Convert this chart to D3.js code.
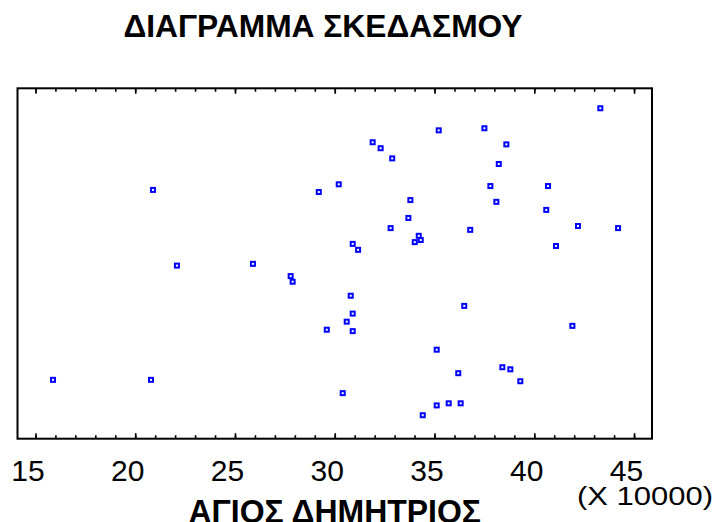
<!DOCTYPE html>
<html>
<head>
<meta charset="utf-8">
<script src="https://cdn.jsdelivr.net/npm/d3@7"></script>
<style>
  html, body { margin: 0; padding: 0; background: #fff; }
  svg { display: block; }
  text { font-family: "Liberation Sans", Arial, sans-serif; fill: #000; }
</style>
</head>
<body>
<svg id="chart" width="717" height="522"></svg>
<script>
// Scatter data: x in units of 10000, y on an unlabelled 0–100 scale
const xValues = [
  20.89, 15.88, 20.79, 22.09, 25.90, 27.79, 27.89, 29.20, 30.20, 30.90,
  31.17, 30.80, 30.90, 30.60, 29.60, 30.90, 30.40, 43.31, 35.21, 37.50,
  31.90, 32.30, 32.88, 38.60, 38.22, 37.80, 40.69, 33.79, 38.10, 40.60,
  33.69, 32.80, 36.79, 42.19, 44.20, 34.21, 34.01, 34.31, 41.09, 36.49,
  41.91, 35.11, 38.40, 38.80, 36.19, 39.30, 35.11, 35.71, 36.31, 34.41
];
const yValues = [
  71.0, 16.8, 16.8, 49.4, 49.9, 46.4, 44.8, 70.4, 72.6, 55.6,
  53.9, 40.8, 35.7, 33.4, 31.1, 30.7, 13.0, 94.3, 88.0, 88.6,
  84.6, 82.9, 80.0, 84.0, 78.4, 72.1, 72.1, 68.1, 67.6, 65.3,
  63.0, 60.1, 59.6, 60.7, 60.1, 57.9, 56.1, 56.7, 55.0, 37.9,
  32.2, 25.4, 20.4, 19.8, 18.7, 16.4, 9.5, 10.1, 10.1, 6.7
];
const xTicks = [15, 20, 25, 30, 35, 40, 45];
const xMinorTicks = d3.range(15, 46, 1);
const titleText = "ΔΙΑΓΡΑΜΜΑ ΣΚΕΔΑΣΜΟΥ";
const xLabelText = "ΑΓΙΟΣ ΔΗΜΗΤΡΙΟΣ";
const xUnitText = "(X 10000)";

const svg = d3.select("#chart");

const frame = { left: 17.5, right: 652, top: 88.3, bottom: 438.7 };
const x = d3.scaleLinear().domain([14.1, 45.9]).range([frame.left, frame.right]);
const y = d3.scaleLinear().domain([0, 100]).range([frame.bottom, frame.top]);

// Title
svg.append("text")
  .attr("x", 123.5).attr("y", 37.3)
  .attr("font-size", 31).attr("font-weight", "bold")
  .attr("textLength", 399).attr("lengthAdjust", "spacingAndGlyphs")
  .text(titleText);

// Plot frame
svg.append("rect")
  .attr("x", frame.left).attr("y", frame.top)
  .attr("width", frame.right - frame.left)
  .attr("height", frame.bottom - frame.top)
  .attr("fill", "none").attr("stroke", "#000").attr("stroke-width", 2);

// Inward ticks on the bottom and top edges
const minorAxisB = d3.axisBottom(x).tickValues(xMinorTicks).tickSize(-3.5).tickFormat("");
const majorAxisB = d3.axisBottom(x).tickValues(xTicks).tickSize(-5.5).tickFormat("");
const minorAxisT = d3.axisTop(x).tickValues(xMinorTicks).tickSize(-3.5).tickFormat("");
const majorAxisT = d3.axisTop(x).tickValues(xTicks).tickSize(-5.5).tickFormat("");

[[minorAxisB, frame.bottom], [majorAxisB, frame.bottom],
 [minorAxisT, frame.top], [majorAxisT, frame.top]].forEach(([ax, yy]) => {
  const g = svg.append("g").attr("transform", `translate(0,${yy})`).call(ax);
  g.select(".domain").remove();
  g.selectAll(".tick line").attr("stroke", "#000").attr("stroke-width", 1.6);
});

// Tick labels
svg.append("g").selectAll("text")
  .data(xTicks)
  .join("text")
  .attr("x", d => x(d) - 7.5)
  .attr("y", 480.5)
  .attr("text-anchor", "middle")
  .attr("font-size", 30)
  .text(d => d);

// Axis title and unit
svg.append("text")
  .attr("x", 188.5).attr("y", 523)
  .attr("font-size", 32.5).attr("font-weight", "bold")
  .attr("textLength", 292.5).attr("lengthAdjust", "spacingAndGlyphs")
  .text(xLabelText);

svg.append("text")
  .attr("x", 577).attr("y", 505)
  .attr("font-size", 25.5)
  .attr("textLength", 136).attr("lengthAdjust", "spacingAndGlyphs")
  .text(xUnitText);

// Points: small hollow blue squares
const pts = xValues.map((v, i) => ({ x: v, y: yValues[i] }));
svg.append("g").selectAll("rect")
  .data(pts)
  .join("rect")
  .attr("x", d => x(d.x) - 2)
  .attr("y", d => y(d.y) - 2)
  .attr("width", 4).attr("height", 4)
  .attr("fill", "#fff")
  .attr("stroke", "#0000ff")
  .attr("stroke-width", 2);
</script>
</body>
</html>
